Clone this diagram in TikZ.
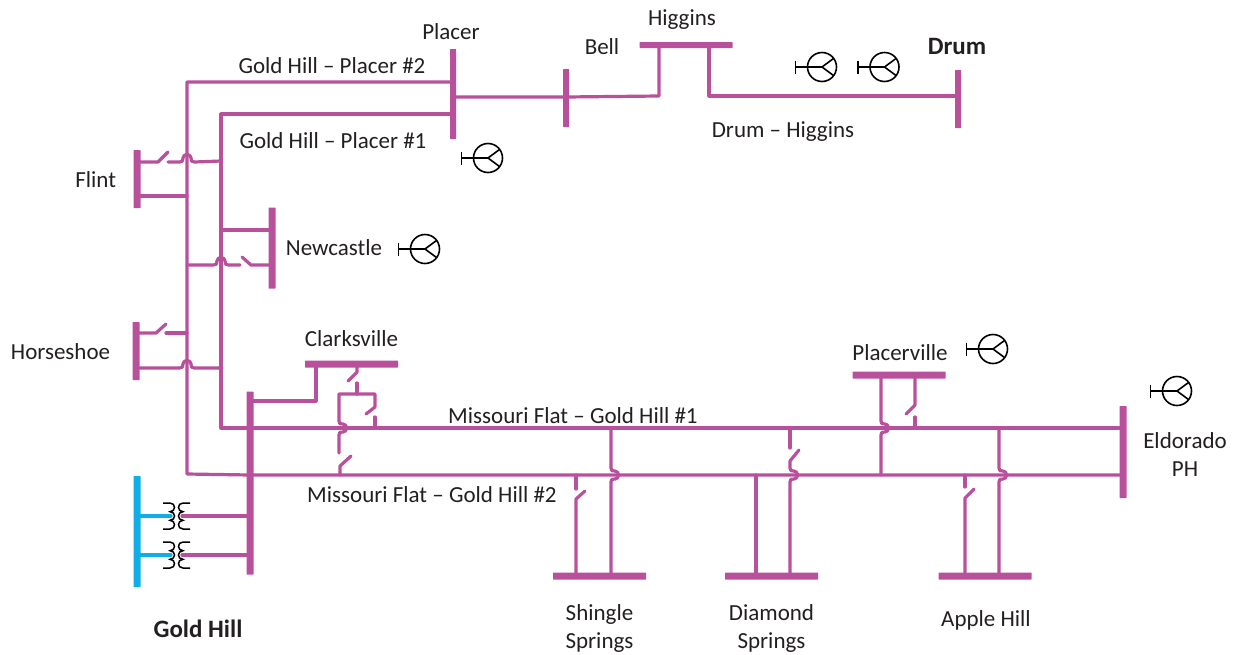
\documentclass[tikz,border=0pt]{standalone}
\usepackage{fontspec}
\setmainfont{Carlito}
\usetikzlibrary{positioning}
\definecolor{busline}{HTML}{B8509C}
\definecolor{lvline}{HTML}{10AEE4}
\definecolor{labeltext}{HTML}{231F20}

\begin{document}
\begin{tikzpicture}[
        x=1pt,y=-1pt,
        feeder/.style={draw=busline,line width=3.2pt,line cap=round,line join=round},
        lvfeeder/.style={draw=lvline,line width=3.2pt,line cap=round},
        busv/.style={fill=busline,inner sep=0pt,minimum width=6pt,minimum height=#1,rounded corners=0.5pt},
        bush/.style={fill=busline,inner sep=0pt,minimum height=7pt,minimum width=93pt,rounded corners=0.5pt},
        lbl/.style={inner sep=0pt,text=labeltext,font=\fontsize{23}{28}\selectfont,align=center},
        lblbold/.style={lbl,font=\fontsize{25}{30}\selectfont\bfseries},
        hopup/.style={insert path={.. controls +(3,0) and +(0,3) .. ++(3.5,-4) .. controls +(0,-2.2) and +(-2.2,0) .. ++(4,-3.5) .. controls +(2.2,0) and +(0,-2.2) .. ++(4,3.5) .. controls +(0,3) and +(-3,0) .. ++(3.5,4)}},
        hopright/.style={insert path={.. controls +(0,3) and +(-3,0) .. ++(4,3) .. controls +(2.2,0) and +(0,-2.2) .. ++(3.5,4) .. controls +(0,2.2) and +(2.2,0) .. ++(-3.5,4) .. controls +(-3,0) and +(0,-3) .. ++(-4,3)}},
        pics/gen/.style={code={
            \draw[black,line width=1.6pt] (0,0) circle (14.5);
            \draw[black,line width=1.6pt] (-26.5,-6.5) -- (-26.5,6.5);
            \draw[black,line width=1.6pt] (-26.5,0) -- (0,0) -- (11.5,-8.5);
            \draw[black,line width=1.6pt] (0,0) -- (11.5,8.5);
        }},
        pics/xfmr/.style={code={
            \draw[black,line width=1.5pt] (-13,-13) -- (-6,-13)
                .. controls +(6,0) and +(6,0) .. (-6,-4.3)
                .. controls +(6,0) and +(6,0) .. (-6,4.3)
                .. controls +(6,0) and +(6,0) .. (-6,13) -- (-13,13);
            \draw[black,line width=1.5pt] (14,-13) -- (7,-13)
                .. controls +(-6,0) and +(-6,0) .. (7,-4.3)
                .. controls +(-6,0) and +(-6,0) .. (7,4.3)
                .. controls +(-6,0) and +(-6,0) .. (7,13) -- (14,13);
        }}
        ]
        \useasboundingbox (0,0) rectangle (1236,654);

        % buses
        \node[busv=90pt,minimum width=6pt] (placer) at (453,94)   {};
        \node[busv=58pt,minimum width=6pt] (bell)   at (566,98)   {};
        \node[bush,minimum height=6pt]     (higgins) at (686,45)  {};
        \node[busv=58pt,minimum width=6pt] (drum)   at (958,99)   {};
        \node[busv=58pt,minimum width=7pt]  (flint)     at (137,179)  {};
        \node[busv=81pt,minimum width=7pt]  (newcastle) at (272,248)  {};
        \node[busv=58pt,minimum width=7pt]  (horseshoe) at (136,351)  {};
        \node[busv=183pt,minimum width=7pt] (goldhill)  at (250,483)  {};
        \node[bush]       (clarks)    at (351.5,364) {};
        \node[bush]       (placerv)   at (899,375)  {};
        \node[busv=92pt,minimum width=7pt]  (eldorado)  at (1123,452) {};
        \node[bush]       (shingle)   at (599.5,576) {};
        \node[bush]       (diamond)   at (771.5,576) {};
        \node[bush]       (apple)     at (985,576)  {};
        \node[busv=111pt,fill=lvline,minimum width=7pt] (lvbus) at (137,531.5) {};

        % tie points
        \foreach \name/\x/\y in {trunkAt/187/82,trunkAb/187/474,trunkBt/221/114,trunkBb/221/428,
            plA/453/82,plB/453/114,plC/453/97,bellC/566/97,bellD/659/96,hgA/659/45,hgB/709/45,
            hgC/709/96,drC/958/96,ghA/250/475,ghB/250/401,ghC/250/428,mfA/1122/428,mfB/1122/475,
            clA/316/364,clB/316/401,loopL/339/394,loopR/375/394}
            \coordinate (\name) at (\x,\y);

        % Placer and Drum side
        \draw[feeder] (plA) -- (trunkAt) -- (trunkAb) -- (ghA) -- (mfB);
        \draw[feeder] (plB) -- (trunkBt) -- (trunkBb) -- (ghC) -- (mfA);
        \draw[feeder] (plC) -- (bellC) -- (bellD) -- (hgA);
        \draw[feeder] (hgB) -- (hgC) -- (drC);

        % Flint
        \draw[feeder] (137,162) -- (158,162) -- (168,152);
        \draw[feeder] (168,162) -- (179.5,162) [hopup] -- (221,161);
        \draw[feeder] (137,196) -- (187,196);
        % Newcastle
        \draw[feeder] (221,230) -- (272,230);
        \draw[feeder] (187,265) -- (213.5,265) [hopup] -- (240,265);
        \draw[feeder] (272,265) -- (251,265) -- (242,257);
        % Horseshoe
        \draw[feeder] (136,333) -- (156,333) -- (166,324);
        \draw[feeder] (166,333) -- (187,333);
        \draw[feeder] (136,368) -- (179.5,368) [hopup] -- (221,368);

        % Clarksville
        \draw[feeder] (ghB) -- (clB) -- (clA);
        \draw[feeder] (357,364) -- (357,372) -- (348,381);
        \draw[feeder] (357,383) -- (357,394);
        \draw[feeder] (357,394) -- (loopL) -- (339,421) [hopright] -- (339,453);
        \draw[feeder] (351,456) -- (340,466) -- (340,475);
        \draw[feeder] (357,394) -- (loopR) -- (375,407) -- (366,414);
        \draw[feeder] (375,417) -- (375,428);

        % Shingle Springs
        \draw[feeder] (576,475) -- (576,489);
        \draw[feeder] (585,491) -- (576,499) -- (576,576);
        \draw[feeder] (611,428) -- (611,468) [hopright] -- (611,576);
        % Diamond Springs
        \draw[feeder] (756,475) -- (756,576);
        \draw[feeder] (790,428) -- (790,448);
        \draw[feeder] (799,450) -- (790,461) -- (790,468) [hopright] -- (790,576);
        % Placerville
        \draw[feeder] (881,375) -- (881,421) [hopright] -- (881,475);
        \draw[feeder] (915,375) -- (915,405) -- (906,414);
        \draw[feeder] (915,417) -- (915,428);
        % Apple Hill
        \draw[feeder] (965,475) -- (965,487);
        \draw[feeder] (974,489) -- (965,498) -- (965,576);
        \draw[feeder] (999,428) -- (999,468) [hopright] -- (999,576);

        % Gold Hill transformers
        \draw[lvfeeder] (137,516) -- (171,516);
        \draw[lvfeeder] (137,555) -- (171,555);
        \draw[feeder] (182,516) -- (250,516);
        \draw[feeder] (182,555) -- (250,555);
        \pic (xf1) at (176,516) {xfmr};
        \pic (xf2) at (176,555) {xfmr};

        % generators
        \pic (gen1) at (822,67)   {gen};
        \pic (gen2) at (884.5,67) {gen};
        \pic (gen3) at (488,158)  {gen};
        \pic (gen4) at (425,249)  {gen};
        \pic (gen5) at (993,349)  {gen};
        \pic (gen6) at (1177,391) {gen};

        % labels
        \node[lbl] (lplacer)  [above=9pt of placer,xshift=-2pt] {Placer};
        \node[lbl] (lbell)    at (602,46.5)            {Bell};
        \node[lbl] (lhiggins) [above=12pt of higgins,xshift=-4pt] {Higgins};
        \node[lblbold] (ldrum) at (957,46)             {Drum};
        \node[lbl] (lgp2)     at (332,66)              {Gold Hill – Placer \#2};
        \node[lbl] (lgp1)     at (333,141)             {Gold Hill – Placer \#1};
        \node[lbl] (ldh)      at (783,131.5)           {Drum – Higgins};
        \node[lbl] (lflint)   [left=17pt of flint,yshift=-1pt] {Flint};
        \node[lbl] (lnewc)    [right=11pt of newcastle,xshift=-1pt] {Newcastle};
        \node[lbl] (lhorse)   [left=22pt of horseshoe,yshift=-1pt] {Horseshoe};
        \node[lbl] (lclarks)  [above=13pt of clarks]   {Clarksville};
        \node[lbl] (lplacerv) [above=10pt of placerv,xshift=1pt] {Placerville};
        \node[lbl] (lmf1)     at (573,415.5)           {Missouri Flat – Gold Hill \#1};
        \node[lbl] (lmf2)     at (432,494.5)           {Missouri Flat – Gold Hill \#2};
        \node[lbl] (leldo)    at (1185,454.5)          {Eldorado\\PH};
        \node[lbl] (lshingle) [below=25pt of shingle]  {Shingle\\Springs};
        \node[lbl] (ldiamond) [below=25pt of diamond]  {Diamond\\Springs};
        \node[lbl] (lapple)   at (986,620)             {Apple Hill};
        \node[lblbold] (lgold) at (198,628.5)          {Gold Hill};
\end{tikzpicture}
\end{document}
